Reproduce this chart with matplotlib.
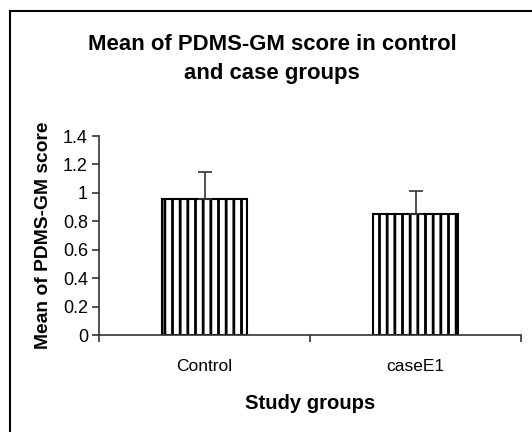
import matplotlib.pyplot as plt
from matplotlib.patches import Rectangle

DPI = 92          # chosen so the '||' hatch spacing matches the stripes
k = 100 / DPI     # keeps the sizes that were tuned for 100 dpi

plt.rcParams['font.family'] = ['Liberation Sans', 'DejaVu Sans']
plt.rcParams['hatch.linewidth'] = 2.2
plt.rcParams['hatch.color'] = 'black'

# Data
groups = ["Control", "caseE1"]
means = [0.96, 0.85]
errors = [0.19, 0.16]
y_ticks = [0, 0.2, 0.4, 0.6, 0.8, 1, 1.2, 1.4]
y_tick_labels = ["0", "0.2", "0.4", "0.6", "0.8", "1", "1.2", "1.4"]

fig = plt.figure(figsize=(532 / DPI, 432 / DPI), dpi=DPI)
ax = fig.add_axes([99 / 532, 1 - 335 / 432, (521 - 99) / 532, (335 - 136) / 432])

x = list(range(len(groups)))
ax.bar(x, means, width=0.4, color='white', edgecolor='black', linewidth=1.5 * k,
       hatch='||', zorder=2)
ax.errorbar(x, means, yerr=[[0] * len(errors), errors], fmt='none',
            ecolor='#333333', elinewidth=1.2 * k, capsize=5 * k, capthick=1.2 * k,
            zorder=3)

ax.set_xlim(-0.5, 1.5)
ax.set_ylim(0, 1.4)
ax.set_yticks(y_ticks)
ax.set_yticklabels(y_tick_labels)
ax.set_xticks(x)
ax.set_xticklabels(groups)
ax.set_xticks([-0.5, 0.5, 1.5], minor=True)
ax.tick_params(axis='x', which='major', length=0, pad=17 * k, labelsize=12.5 * k)
ax.tick_params(axis='x', which='minor', length=5 * k, width=1.2 * k, color='#333333')
ax.tick_params(axis='y', length=5 * k, width=1.2 * k, color='#333333',
               labelsize=13 * k, pad=3 * k)

for side in ['top', 'right']:
    ax.spines[side].set_visible(False)
for side in ['left', 'bottom']:
    ax.spines[side].set_color('#333333')
    ax.spines[side].set_linewidth(1.2 * k)

ax.set_ylabel("Mean of PDMS-GM score", fontsize=13.9 * k, fontweight='bold',
              labelpad=8 * k)
ax.set_xlabel("Study groups", fontsize=14.6 * k, fontweight='bold', labelpad=15 * k)

fig.text(272 / 532, 1 - 59 / 432,
         "Mean of PDMS-GM score in control\nand case groups",
         ha='center', va='center', fontsize=15.9 * k, fontweight='bold',
         linespacing=1.5)

# outer chart frame (runs off the right and bottom edges)
fig.add_artist(Rectangle((10 / 532, -0.05), 1.1, 1 - 11 / 432 + 0.05,
                         transform=fig.transFigure, fill=False,
                         edgecolor='black', linewidth=1.5 * k))

fig.savefig("out.png", dpi=DPI)
